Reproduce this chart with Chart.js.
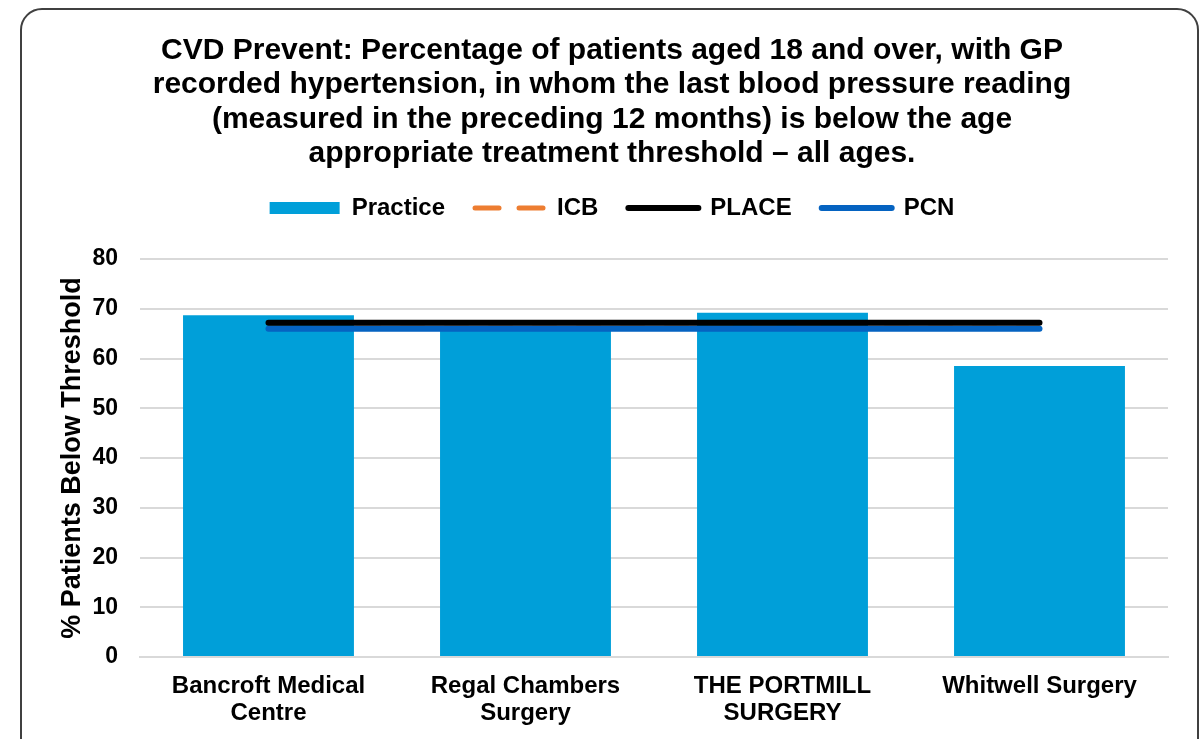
<!DOCTYPE html>
<html lang="en">
<head>
  <meta charset="UTF-8">
  <title>CVD Prevent - Hypertension below threshold</title>
  <script src="https://cdn.jsdelivr.net/npm/chart.js"></script>
  <style>
    html, body { margin: 0; padding: 0; background: #fff; overflow: hidden; }
    #frame {
      position: absolute; left: 20px; top: 8px; width: 1175px; height: 800px;
      border: 2px solid #404040; border-radius: 22px;
    }
    #wrap { position: absolute; left: 0; top: 0; width: 1203px; height: 739px; }
  </style>
</head>
<body>
  <div id="frame"></div>
  <div id="wrap"><canvas id="chart" width="1203" height="739"></canvas></div>

  <script>
    const practices = [
      ['Bancroft Medical', 'Centre'],
      ['Regal Chambers', 'Surgery'],
      ['THE PORTMILL', 'SURGERY'],
      ['Whitwell Surgery']
    ];
    const practiceValues = [68.7, 65.8, 69.2, 58.5];
    const icbValues = [67.2, 67.2, 67.2, 67.2];
    const placeValues = [67.2, 67.2, 67.2, 67.2];
    const pcnValues = [66.0, 66.0, 66.0, 66.0];

    const titleLines = [
      'CVD Prevent: Percentage of patients aged 18 and over, with GP',
      'recorded hypertension, in whom the last blood pressure reading',
      '(measured in the preceding 12 months) is below the age',
      'appropriate treatment threshold \u2013 all ages.'
    ];

    const font = '"Liberation Sans", Arial, sans-serif';

    // extra room under the legend before the plot starts
    const legendSpacer = {
      id: 'legendSpacer',
      beforeInit(chart) {
        const fit = chart.legend.fit;
        chart.legend.fit = function () {
          fit.bind(chart.legend)();
          this.height += 29;
        };
      }
    };

    new Chart(document.getElementById('chart').getContext('2d'), {
      type: 'bar',
      data: {
        labels: practices,
        datasets: [
          {
            label: 'Practice',
            data: practiceValues,
            backgroundColor: '#009fd9',
            borderWidth: 0,
            pointStyle: 'rect',
            categoryPercentage: 1,
            barPercentage: 0.665,
            order: 4
          },
          {
            type: 'line',
            label: 'ICB',
            data: icbValues,
            borderColor: '#ed7d31',
            backgroundColor: '#ed7d31',
            borderWidth: 5,
            borderDash: [24, 20],
            borderCapStyle: 'round',
            pointRadius: 0,
            pointStyle: 'line',
            fill: false,
            order: 3
          },
          {
            type: 'line',
            label: 'PLACE',
            data: placeValues,
            borderColor: '#000000',
            backgroundColor: '#000000',
            borderWidth: 6,
            borderCapStyle: 'round',
            pointRadius: 0,
            pointStyle: 'line',
            fill: false,
            order: 1
          },
          {
            type: 'line',
            label: 'PCN',
            data: pcnValues,
            borderColor: '#0563c1',
            backgroundColor: '#0563c1',
            borderWidth: 6,
            borderCapStyle: 'round',
            pointRadius: 0,
            pointStyle: 'line',
            fill: false,
            order: 2
          }
        ]
      },
      options: {
        responsive: false,
        animation: false,
        layout: { padding: { left: 56, right: 35, top: 0, bottom: -3 } },
        plugins: {
          title: {
            display: true,
            text: titleLines,
            color: '#000',
            font: { family: font, size: 30, weight: 'bold', lineHeight: 1.15 },
            padding: { top: 33, bottom: -5 }
          },
          legend: {
            position: 'top',
            labels: {
              usePointStyle: true,
              pointStyleWidth: 70,
              boxWidth: 70,
              boxHeight: 12,
              padding: 30,
              color: '#000',
              font: { family: font, size: 24, weight: 'bold' },
              sort: (a, b) => a.datasetIndex - b.datasetIndex,
              generateLabels(chart) {
                const items = Chart.defaults.plugins.legend.labels.generateLabels(chart);
                items.forEach(item => {
                  const ds = chart.data.datasets[item.datasetIndex];
                  if (ds.type === 'line') {
                    item.lineDash = ds.borderDash || [];
                    item.lineCap = 'round';
                    item.lineWidth = ds.borderWidth;
                    item.strokeStyle = ds.borderColor;
                  }
                });
                return items;
              }
            }
          },
          tooltip: { enabled: false }
        },
        scales: {
          x: {
            grid: { display: false, drawTicks: false },
            border: { display: true, color: '#d9d9d9', width: 2 },
            ticks: {
              color: '#000',
              padding: 15.5,
              maxRotation: 0,
              font: { family: font, size: 24, weight: 'bold', lineHeight: 1.125 }
            }
          },
          y: {
            min: 0,
            max: 80,
            ticks: {
              stepSize: 10,
              color: '#000',
              padding: 22,
              font: { family: font, size: 23, weight: 'bold' }
            },
            grid: { color: '#d9d9d9', lineWidth: 2, drawTicks: false },
            border: { display: false },
            title: {
              display: true,
              text: '% Patients Below Threshold',
              color: '#000',
              padding: { top: 0, bottom: -18 },
              font: { family: font, size: 27, weight: 'bold', lineHeight: 1.2 }
            }
          }
        }
      },
      plugins: [legendSpacer]
    });
  </script>
</body>
</html>
